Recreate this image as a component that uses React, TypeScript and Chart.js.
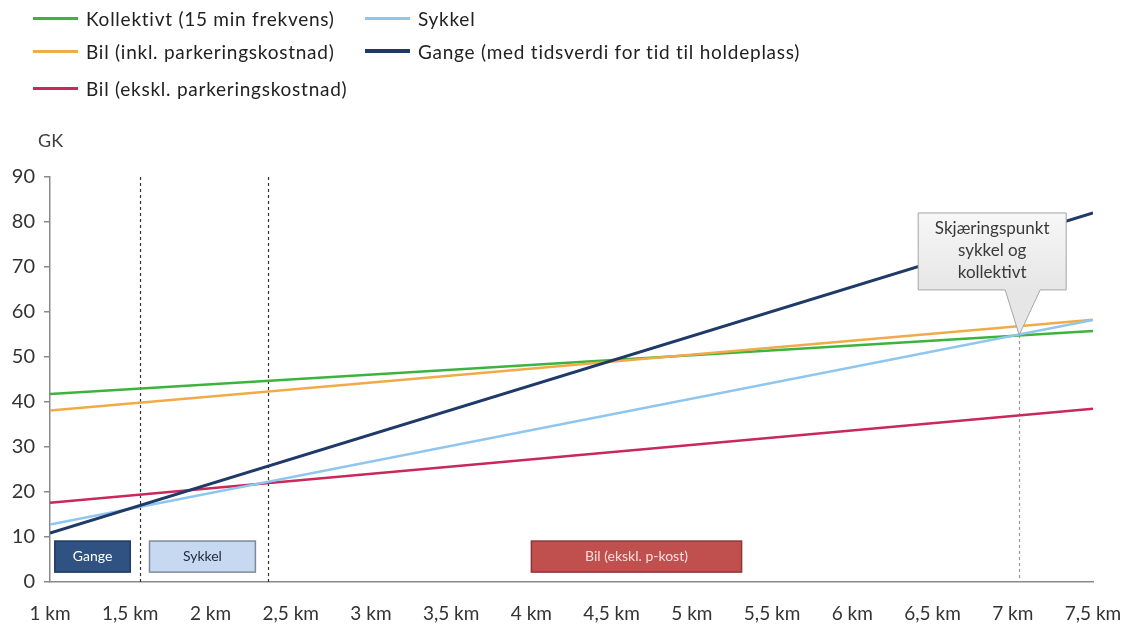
import React, { useEffect, useRef } from "react";
import { Chart, registerables } from "chart.js";

Chart.register(...registerables);

const xMin = 1;
const xMax = 7.5;
const xTickStep = 0.5;
const yMin = 0;
const yMax = 90;
const yTickStep = 10;
const yTitle = "GK";

const seriesNames = [
  "Kollektivt (15 min frekvens)",
  "Bil (inkl. parkeringskostnad)",
  "Bil (ekskl. parkeringskostnad)",
  "Sykkel",
  "Gange (med tidsverdi for tid til holdeplass)",
];
const seriesColors = ["#3cb43c", "#f0aa48", "#c9285a", "#8ec6ee", "#1f3a68"];
const seriesX = [1, 7.5];
const kollektivt = [41.8, 55.8];
const bilInkl = [38.1, 58.3];
const bilEkskl = [17.6, 38.5];
const sykkel = [12.8, 58.2];
const gange = [10.9, 82.0];
const seriesValues = [kollektivt, bilInkl, bilEkskl, sykkel, gange];

const dashedBlackX = [1.56, 2.36];
const crossingX = 7.04;
const crossingY = 54.9;
const calloutLines = ["Skjæringspunkt", "sykkel og", "kollektivt"];

const zoneLabels = ["Gange", "Sykkel", "Bil (ekskl. p-kost)"];
const zoneStart = [1.03, 1.62, 4.0];
const zoneEnd = [1.5, 2.28, 5.31];
const zoneBottom = 2.2;
const zoneTop = 9.1;
const zoneFill = ["#2f5283", "#c6d9f1", "#c0504d"];
const zoneBorder = ["#1f3a5f", "#7d8a99", "#8c3836"];
const zoneText = ["#ffffff", "#1f2a3a", "#f6dede"];

const FONT = "Lato, 'Open Sans', sans-serif";

const overlayPlugin = {
  id: "overlay",
  beforeDatasetsDraw(chart: any) {
    const { ctx } = chart;
    const xs = chart.scales.x;
    const ys = chart.scales.y;
    ctx.save();
    ctx.lineWidth = 1.2;
    ctx.strokeStyle = "#333";
    ctx.setLineDash([3, 3]);
    for (const v of dashedBlackX) {
      const px = Math.round(xs.getPixelForValue(v)) + 0.5;
      ctx.beginPath();
      ctx.moveTo(px, ys.getPixelForValue(yMax));
      ctx.lineTo(px, ys.getPixelForValue(0));
      ctx.stroke();
    }
    ctx.strokeStyle = "#999";
    const cx = Math.round(xs.getPixelForValue(crossingX)) + 0.5;
    ctx.beginPath();
    ctx.moveTo(cx, ys.getPixelForValue(crossingY));
    ctx.lineTo(cx, ys.getPixelForValue(0));
    ctx.stroke();
    ctx.restore();
  },
  afterDatasetsDraw(chart: any) {
    const { ctx } = chart;
    const xs = chart.scales.x;
    const ys = chart.scales.y;
    ctx.save();
    for (let i = 0; i < zoneLabels.length; i++) {
      const x0 = xs.getPixelForValue(zoneStart[i]);
      const x1 = xs.getPixelForValue(zoneEnd[i]);
      const y0 = ys.getPixelForValue(zoneTop);
      const y1 = ys.getPixelForValue(zoneBottom);
      ctx.fillStyle = zoneFill[i];
      ctx.fillRect(x0, y0, x1 - x0, y1 - y0);
      ctx.lineWidth = 1.5;
      ctx.strokeStyle = zoneBorder[i];
      ctx.strokeRect(x0, y0, x1 - x0, y1 - y0);
      ctx.fillStyle = zoneText[i];
      ctx.font = `14px ${FONT}`;
      ctx.textAlign = "center";
      ctx.textBaseline = "middle";
      ctx.fillText(zoneLabels[i], (x0 + x1) / 2, (y0 + y1) / 2);
    }
    const tipX = xs.getPixelForValue(crossingX);
    const tipY = ys.getPixelForValue(crossingY);
    const left = tipX - 101;
    const right = tipX + 47;
    const top = tipY - 122;
    const bottom = tipY - 45;
    const grad = ctx.createLinearGradient(0, top, 0, bottom);
    grad.addColorStop(0, "#f7f7f7");
    grad.addColorStop(1, "#e6e6e6");
    ctx.beginPath();
    ctx.moveTo(left, top);
    ctx.lineTo(right, top);
    ctx.lineTo(right, bottom);
    ctx.lineTo(tipX + 21, bottom);
    ctx.lineTo(tipX, tipY);
    ctx.lineTo(tipX - 14, bottom);
    ctx.lineTo(left, bottom);
    ctx.closePath();
    ctx.fillStyle = grad;
    ctx.fill();
    ctx.lineWidth = 1;
    ctx.strokeStyle = "#a6a6a6";
    ctx.stroke();
    ctx.fillStyle = "#3a3a3a";
    ctx.font = `17px ${FONT}`;
    ctx.textAlign = "center";
    ctx.textBaseline = "middle";
    const mid = (left + right) / 2;
    calloutLines.forEach((t, i) => ctx.fillText(t, mid, top + 16 + i * 22));
    ctx.fillStyle = "#404040";
    ctx.font = `18px ${FONT}`;
    ctx.textAlign = "left";
    ctx.fillText(yTitle, chart.chartArea.left - 12, ys.getPixelForValue(yMax) - 36);
    ctx.restore();
  },
};

export default function App() {
  const ref = useRef<HTMLCanvasElement | null>(null);
  useEffect(() => {
    document.body.style.margin = "0";
    if (!ref.current) return;
    const datasets = seriesNames.map((name, i) => ({
      label: name,
      data: seriesX.map((x, j) => ({ x, y: seriesValues[i][j] })),
      borderColor: seriesColors[i],
      backgroundColor: seriesColors[i],
      borderWidth: i === 4 ? 3 : 2.5,
      pointRadius: 0,
      tension: 0,
      fill: false,
      order: i === 4 ? 0 : 5 - i,
    }));
    const chart = new Chart(ref.current, {
      type: "line",
      data: { datasets },
      options: {
        animation: false,
        responsive: false,
        maintainAspectRatio: false,
        layout: { padding: { top: 177, right: 37, left: 0, bottom: 0 } },
        plugins: { legend: { display: false }, tooltip: { enabled: false } },
        scales: {
          x: {
            type: "linear",
            min: xMin,
            max: xMax,
            afterFit: (s: any) => {
              s.height = 48;
              s.paddingLeft = 0;
              s.paddingRight = 0;
            },
            afterBuildTicks: (s: any) => {
              const t = [];
              for (let v = xMin; v <= xMax + 1e-9; v += xTickStep) t.push({ value: Math.round(v * 10) / 10 });
              s.ticks = t;
            },
            grid: { display: false, drawTicks: false },
            border: { display: true, color: "#8a8a8a", width: 1.5 },
            ticks: {
              autoSkip: false,
              maxRotation: 0,
              padding: 20,
              color: "#333",
              font: { family: FONT, size: 19 },
              callback: (v: any) => String(v).replace(".", ",") + " km",
            },
          },
          y: {
            min: yMin,
            max: yMax,
            afterFit: (s: any) => {
              s.width = 50;
              s.paddingTop = 0;
              s.paddingBottom = 0;
            },
            grid: { drawOnChartArea: false, drawTicks: true, tickLength: 6, color: "#8a8a8a", lineWidth: 1.5 },
            border: { display: true, color: "#8a8a8a", width: 1.5 },
            ticks: {
              stepSize: yTickStep,
              padding: 9,
              color: "#333",
              font: { family: FONT, size: 20 },
            },
          },
        },
      },
      plugins: [overlayPlugin],
    });
    return () => chart.destroy();
  }, []);

  const legendPos = [
    { left: 33, top: 18 },
    { left: 33, top: 51 },
    { left: 33, top: 88 },
    { left: 365, top: 18 },
    { left: 365, top: 51 },
  ];

  return (
    <div style={{ position: "relative", width: 1130, height: 630, background: "#fff" }}>
      <canvas ref={ref} width={1130} height={630} style={{ position: "absolute", left: 0, top: 0 }} />
      {seriesNames.map((name, i) => (
        <div
          key={name}
          style={{
            position: "absolute",
            left: legendPos[i].left,
            top: legendPos[i].top - 12,
            height: 24,
            display: "flex",
            alignItems: "center",
            fontFamily: FONT,
            fontSize: 19,
            letterSpacing: 0.75,
            color: "#222",
            whiteSpace: "nowrap",
          }}
        >
          <span
            style={{
              display: "inline-block",
              width: 45,
              height: i === 4 ? 4 : 3,
              background: seriesColors[i],
              marginRight: 8,
            }}
          />
          {name}
        </div>
      ))}
    </div>
  );
}
